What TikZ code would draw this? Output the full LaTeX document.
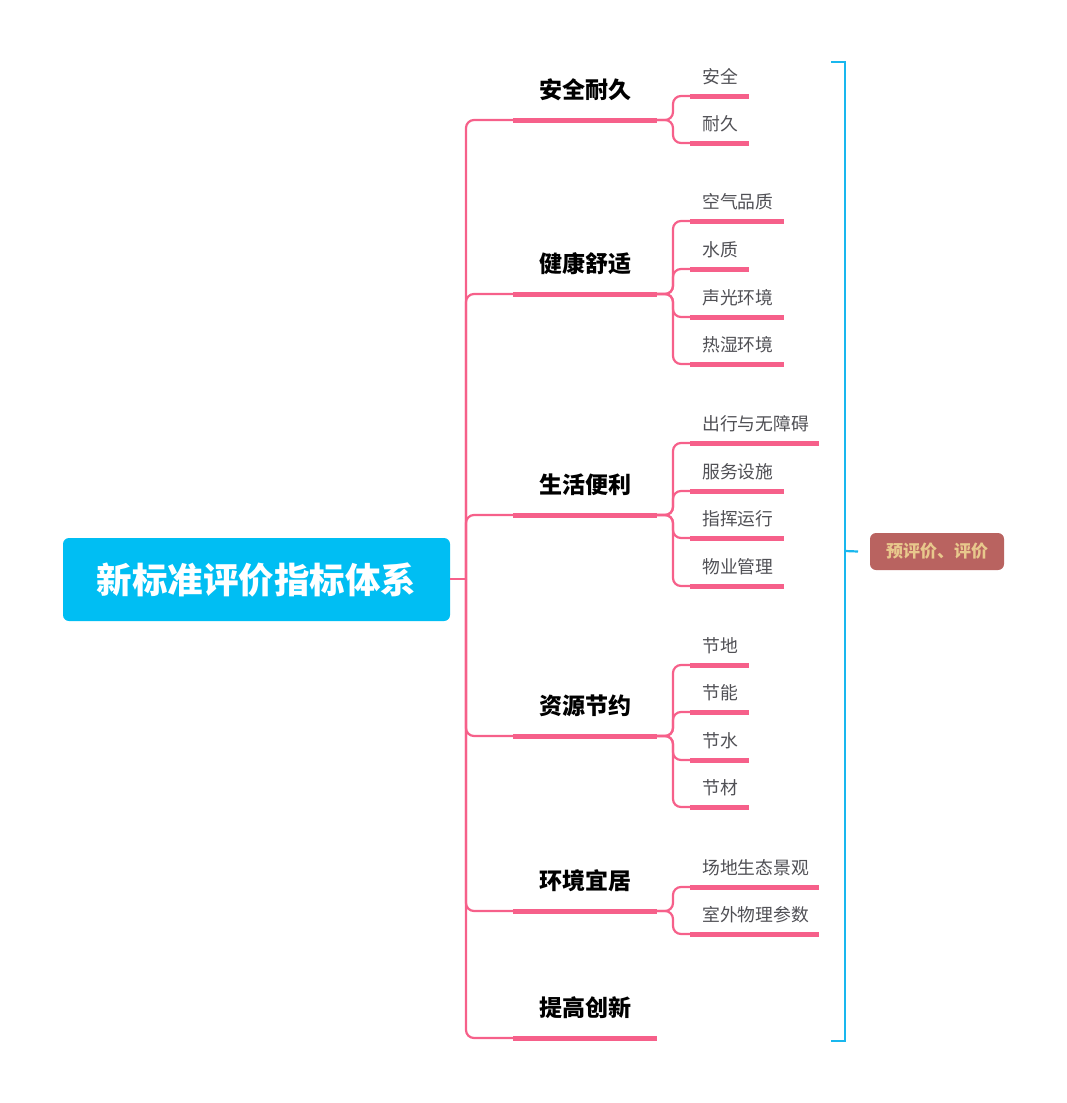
\documentclass[tikz,border=0pt]{standalone}
\usepackage{fontspec}
\setmainfont{Noto Sans CJK SC}
\begin{document}
\begin{tikzpicture}[x=1pt,y=-1pt,
  thinpink/.style={draw=pinkc,line width=2.2pt,rounded corners=8pt},
  thickpink/.style={draw=pinkc,line width=5pt},
  rootbox/.style={fill=rootc,rounded corners=6pt,minimum width=387pt,minimum height=83pt,inner sep=0pt,text=white,font=\fontsize{35.5}{40}\selectfont\bfseries},
  branchlbl/.style={font=\fontsize{23}{26}\selectfont\bfseries,text=black,inner sep=0pt},
  childlbl/.style={font=\fontsize{17.8}{20}\selectfont,text=childc,inner sep=0pt,anchor=west},
  sumbox/.style={fill=sumc,rounded corners=6pt,minimum width=134pt,minimum height=37pt,inner sep=0pt,text=sumtxt,font=\fontsize{17}{20}\selectfont\bfseries},
  bracket/.style={draw=bluec,line width=2.2pt}
]
\definecolor{pinkc}{RGB}{246,96,138}
\definecolor{rootc}{RGB}{0,190,243}
\definecolor{bluec}{RGB}{25,183,238}
\definecolor{sumc}{RGB}{185,99,96}
\definecolor{sumtxt}{RGB}{232,200,140}
\definecolor{childc}{RGB}{80,80,85}
\useasboundingbox (0,0) rectangle (1067,1103);

% root
\node[rootbox] (root) at (256.5,579.5) {新标准评价指标体系};
\coordinate (trunk) at (466,579);
\draw[thinpink] (root.east |- trunk) -- (trunk);

% branches: name, y, label
\foreach \n/\y/\t in {b1/120/安全耐久,b2/294/健康舒适,b3/515/生活便利,b4/736/资源节约,b5/911/环境宜居,b6/1038/提高创新}{
  \coordinate (\n l) at (513,\y);
  \coordinate (\n r) at (657,\y);
  \coordinate (\n s) at (673,\y);
  \node[branchlbl] (\n t) at (585,\y-30) {\t};
  \draw[thinpink] (trunk) |- (\n l);
  \draw[thickpink] (\n l) -- (\n r);
}

% children: branch, name, y, end x, text
\foreach \b/\n/\y/\e/\t in {
  b1/c11/96/749/安全, b1/c12/143/749/耐久,
  b2/c21/221/784/空气品质, b2/c22/269/749/水质, b2/c23/317/784/声光环境, b2/c24/364/784/热湿环境,
  b3/c31/443/819/出行与无障碍, b3/c32/491/784/服务设施, b3/c33/538/784/指挥运行, b3/c34/586/784/物业管理,
  b4/c41/665/749/节地, b4/c42/712/749/节能, b4/c43/760/749/节水, b4/c44/807/749/节材,
  b5/c51/887/819/场地生态景观, b5/c52/934/819/室外物理参数}{
  \coordinate (\n l) at (690,\y);
  \coordinate (\n r) at (\e,\y);
  \node[childlbl] (\n t) at (702,\y-19) {\t};
  \draw[thinpink] (\b r) -- (\b s) |- (\n l);
  \draw[thickpink] (\n l) -- (\n r);
}

% summary bracket
\coordinate (brt) at (831,62);
\coordinate (brb) at (831,1041);
\coordinate (brm) at (845,551);
\node[sumbox] (sum) at (937,551.5) {预评价、评价};
\draw[bracket] (brt) -- (845,62) -- (845,1041) -- (brb);
\draw[bracket] (brm) -- (sum.west -| 858,0);
\end{tikzpicture}
\end{document}
